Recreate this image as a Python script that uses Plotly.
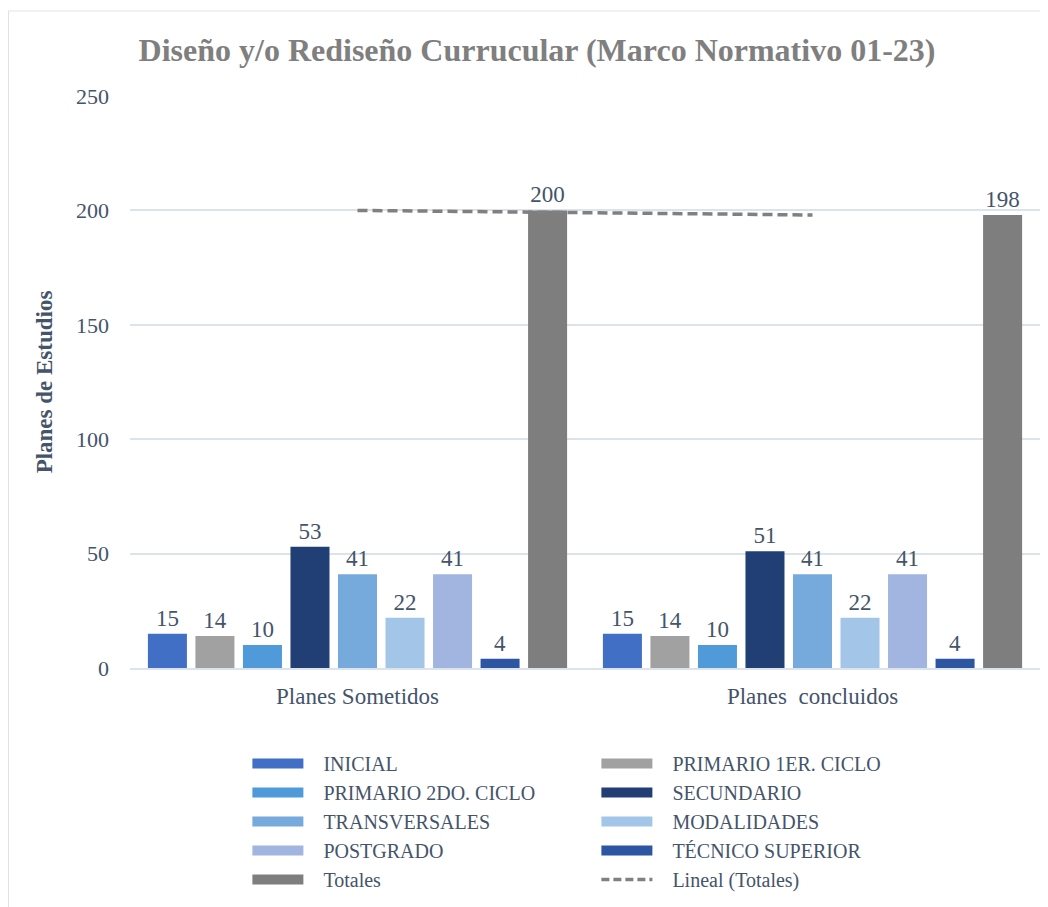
import plotly.graph_objects as go

categories = ["Planes Sometidos", "Planes\u00a0 concluidos"]
series_names = ["INICIAL", "PRIMARIO 1ER. CICLO", "PRIMARIO 2DO. CICLO", "SECUNDARIO",
                "TRANSVERSALES", "MODALIDADES", "POSTGRADO", "TÉCNICO SUPERIOR", "Totales"]
inicial = [15, 15]
primario1 = [14, 14]
primario2 = [10, 10]
secundario = [53, 51]
transversales = [41, 41]
modalidades = [22, 22]
postgrado = [41, 41]
tecnico = [4, 4]
totales = [200, 198]
trend_name = "Lineal (Totales)"

series_values = [inicial, primario1, primario2, secundario, transversales,
                 modalidades, postgrado, tecnico, totales]
colors = ["#416fc6", "#a1a1a1", "#519ad9", "#223f75", "#77aadc",
          "#a3c6e8", "#a1b5e0", "#2c55a2", "#7e7e7e"]

TXT = "#44546a"
FONT = "Liberation Serif"
PAD = "\u00a0\u00a0\u00a0"

# the page body adds an 8px offset; figure is sized to the visible window
W, H = 1040, 899
L, T, R, B = 122, 88, 8, 239
PW, PH = W - L - R, H - T - B

fig = go.Figure()
for name, vals, col in zip(series_names, series_values, colors):
    fig.add_trace(go.Bar(
        x=categories, y=vals, name=name, marker_color=col, marker_line_width=0,
        text=vals, textposition="outside", textfont=dict(size=23, color=TXT, family=FONT),
        cliponaxis=False, showlegend=False))

# trendline (linear fit of the two totals)
fig.add_trace(go.Scatter(x=categories, y=totales, mode="lines", name=trend_name,
                         line=dict(color="#808080", width=3.5, dash="10px,5px"), showlegend=False))

# legend entries as wide swatches
for name, col in zip(series_names, colors):
    fig.add_trace(go.Scatter(x=[None], y=[None], mode="lines", name=PAD + name,
                             line=dict(color=col, width=10)))
fig.add_trace(go.Scatter(x=[None], y=[None], mode="lines", name=PAD + trend_name,
                         line=dict(color="#808080", width=3.5, dash="8px,4px")))

fig.update_layout(
    width=W, height=H,
    margin=dict(l=L, r=R, t=T, b=B),
    paper_bgcolor="white", plot_bgcolor="white",
    font=dict(family=FONT, color=TXT, size=22),
    barmode="group", bargap=0.06, bargroupgap=0.179,
    title=dict(text="<b>Diseño y/o Rediseño Currucular (Marco Normativo 01-23)</b>",
               x=529 / W, xref="container", xanchor="center",
               y=1 - 42 / H, yref="container", yanchor="middle",
               font=dict(size=32, color="#7f7f7f", family=FONT)),
    legend=dict(orientation="h", x=0.129, xanchor="left", y=-0.133, yanchor="top",
                entrywidth=283, entrywidthmode="pixels", traceorder="normal",
                font=dict(size=20, color=TXT, family=FONT), itemwidth=51,
                tracegroupgap=0, bgcolor="rgba(0,0,0,0)"),
    xaxis=dict(showgrid=False, showline=True, linecolor="#dde3ea", linewidth=2,
               ticks="", tickfont=dict(size=23, color=TXT, family=FONT),
               ticklabelstandoff=6, automargin=False),
    yaxis=dict(range=[0, 250], dtick=50, showgrid=True, gridcolor="#dde3ea", gridwidth=1.5,
               zeroline=False, showline=False, ticks="", automargin=False,
               tickfont=dict(size=22, color=TXT, family=FONT), ticklabelstandoff=20,
               title=dict(text="<b>Planes de Estudios</b>", standoff=16,
                          font=dict(size=23, color=TXT, family=FONT))),
    showlegend=True,
)

# chart frame (cropped border)
fx0 = (0 - L) / PW
fy_top = 1 + (T - 3) / PH
fy_bot = (H - T - PH - H) / PH
fig.add_shape(type="line", xref="paper", yref="paper",
              x0=fx0, x1=fx0, y0=fy_top, y1=fy_bot,
              line=dict(color="#dde3ea", width=2))
fig.add_shape(type="line", xref="paper", yref="paper",
              x0=fx0, x1=(W - L) / PW, y0=fy_top, y1=fy_top,
              line=dict(color="#e3e3e3", width=1))

fig.write_html("out.html")
